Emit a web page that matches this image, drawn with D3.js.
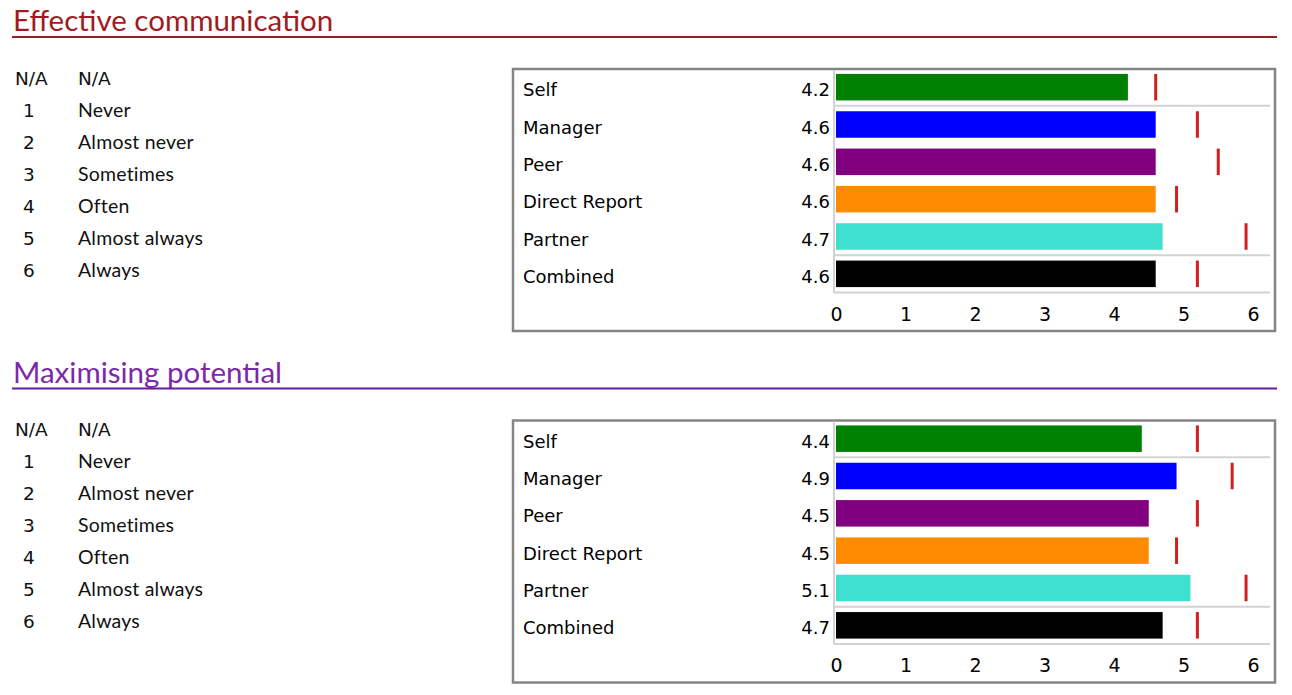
<!DOCTYPE html>
<html>
<head>
<meta charset="utf-8">
<script src="https://cdn.jsdelivr.net/npm/d3@7"></script>
<style>
  html, body { margin: 0; padding: 0; background: #fff; }
  svg { display: block; }
  .title { font-family: Lato, "Open Sans", sans-serif; font-size: 29.5px; }
  .legend-key { font-family: "DejaVu Sans", sans-serif; font-size: 18.5px; fill: #111; }
  .legend-text { font-family: Lato, "Open Sans", sans-serif; font-size: 19.5px; letter-spacing: 0.2px; fill: #111; }
  .chart-text { font-family: "DejaVu Sans", sans-serif; font-size: 18px; fill: #000; }
</style>
</head>
<body>
<svg id="chart" width="1292" height="695"></svg>
<script>
// rating scale legend
var scaleKeys = ['N/A', '1', '2', '3', '4', '5', '6'];
var scaleLabels = ['N/A', 'Never', 'Almost never', 'Sometimes', 'Often', 'Almost always', 'Always'];

// rater groups
var raters = ['Self', 'Manager', 'Peer', 'Direct Report', 'Partner', 'Combined'];
var raterColors = ['#008000', '#0000ff', '#800080', '#ff8c00', '#40e0d0', '#000000'];
var xTicks = [0, 1, 2, 3, 4, 5, 6];

// section 1
var commScores = [4.2, 4.6, 4.6, 4.6, 4.7, 4.6];
var commBenchmark = [4.6, 5.2, 5.5, 4.9, 5.9, 5.2];

// section 2
var potScores = [4.4, 4.9, 4.5, 4.5, 5.1, 4.7];
var potBenchmark = [5.2, 5.7, 5.2, 4.9, 5.9, 5.2];

var sections = [
    { title: 'Effective communication', color: '#a01b22', line: '#a01b22', scores: commScores, bench: commBenchmark, offset: 0 },
    { title: 'Maximising potential', color: '#7a2aa8', line: '#6a1b9a', scores: potScores, bench: potBenchmark, offset: 351.5 }
];

var svg = d3.select('#chart');

var x = d3.scaleLinear().domain([0, 6]).range([836, 1253]);

sections.forEach(function(sec) {
    var oy = sec.offset;
    var g = svg.append('g').attr('transform', 'translate(0,' + oy + ')');

    // heading + rule
    g.append('text')
        .attr('class', 'title')
        .attr('x', 13)
        .attr('y', 31)
        .style('fill', sec.color)
        .text(sec.title);

    g.append('line')
        .attr('x1', 12).attr('x2', 1277)
        .attr('y1', 37).attr('y2', 37)
        .style('stroke', sec.line)
        .style('stroke-width', 2);

    // legend of rating scale
    scaleKeys.forEach(function(k, i) {
        var ty = 84.5 + i * 32;
        g.append('text')
            .attr('class', 'legend-key')
            .attr('x', i === 0 ? 15 : 29)
            .attr('y', ty)
            .attr('text-anchor', i === 0 ? 'start' : 'middle')
            .text(k);
        g.append('text')
            .attr('class', i === 0 ? 'legend-key' : 'legend-text')
            .attr('x', 78)
            .attr('y', ty)
            .text(scaleLabels[i]);
    });

    // chart frame
    g.append('rect')
        .attr('x', 513).attr('y', 69)
        .attr('width', 762).attr('height', 262)
        .style('fill', 'none')
        .style('stroke', '#858585')
        .style('stroke-width', 2.5);

    var y = d3.scaleBand()
        .domain(raters)
        .range([68.5, 292.5])
        .paddingInner(0.29)
        .paddingOuter(0.145);

    var step = y.step();
    var top = y.range()[0];

    // separators (after Self, after Partner) and baseline
    [1, 5, 6].forEach(function(n) {
        g.append('line')
            .attr('x1', 834).attr('x2', 1270)
            .attr('y1', top + n * step).attr('y2', top + n * step)
            .style('stroke', '#d3d3d3')
            .style('stroke-width', 2);
    });

    g.append('line')
        .attr('x1', 834).attr('x2', 834)
        .attr('y1', 70).attr('y2', 293)
        .style('stroke', '#d3d3d3')
        .style('stroke-width', 2);

    // bars
    g.selectAll('.bar')
        .data(raters)
        .enter().append('rect')
        .attr('class', 'bar')
        .attr('x', x(0))
        .attr('y', function(d) { return y(d); })
        .attr('width', function(d, i) { return x(sec.scores[i]) - x(0); })
        .attr('height', y.bandwidth())
        .style('fill', function(d, i) { return raterColors[i]; });

    // benchmark markers
    g.selectAll('.mark')
        .data(raters)
        .enter().append('rect')
        .attr('class', 'mark')
        .attr('x', function(d, i) { return x(sec.bench[i]) - 1.5; })
        .attr('y', function(d) { return y(d); })
        .attr('width', 3)
        .attr('height', y.bandwidth())
        .style('fill', '#d01f1f');

    // rater labels and values
    raters.forEach(function(r, i) {
        var cy = y(r) + y.bandwidth() / 2 + 9;
        g.append('text')
            .attr('class', 'chart-text')
            .attr('x', 523)
            .attr('y', cy)
            .text(r);
        g.append('text')
            .attr('class', 'chart-text')
            .attr('x', 830)
            .attr('y', cy)
            .attr('text-anchor', 'end')
            .text(d3.format('.1f')(sec.scores[i]));
    });

    // x axis
    var axis = g.append('g')
        .attr('transform', 'translate(0,303)')
        .call(d3.axisBottom(x).tickValues(xTicks).tickSize(0).tickPadding(0).tickFormat(d3.format('d')));
    axis.select('.domain').remove();
    axis.selectAll('text')
        .attr('class', 'chart-text')
        .attr('dy', '0')
        .attr('y', 17.8)
        .style('font-size', '19px')
        .style('font-family', '"DejaVu Sans", sans-serif')
        .style('fill', '#000');
});
</script>
</body>
</html>
